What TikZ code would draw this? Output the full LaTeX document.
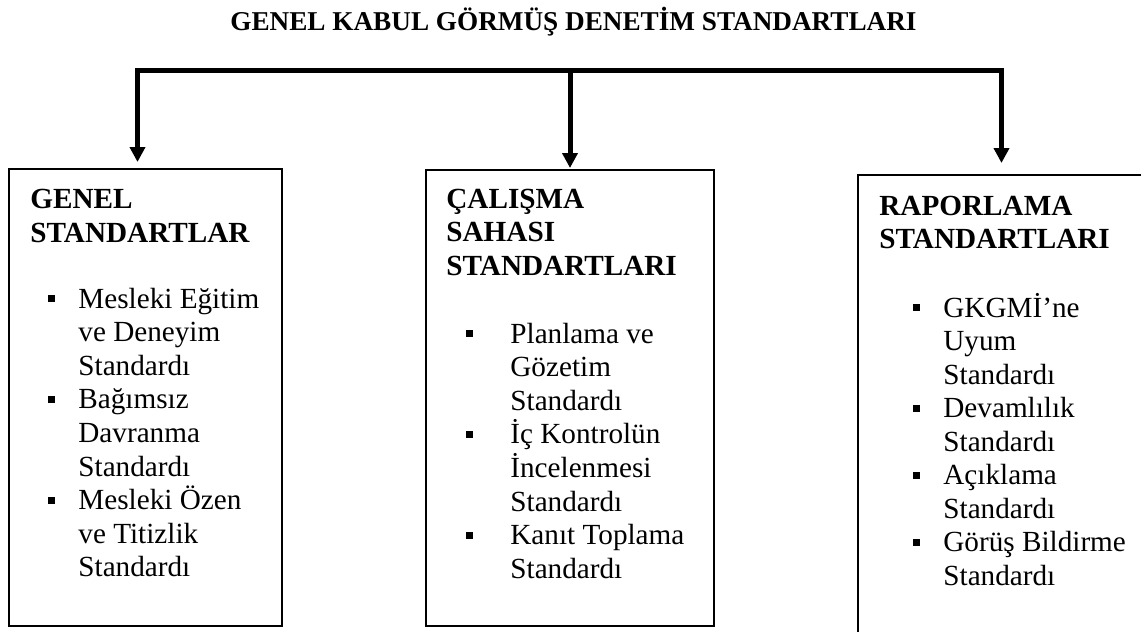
\documentclass[tikz,border=0pt]{standalone}
\usepackage{fontspec}
\setmainfont{Liberation Serif}
\usetikzlibrary{arrows.meta}

\tikzset{
  box/.style={draw, line width=0.7pt, inner sep=0pt, outer sep=0pt},
  head/.style={anchor=base west, inner sep=0pt, font=\fontsize{14.6}{17}\selectfont\bfseries},
  item/.style={anchor=base west, inner sep=0pt, font=\fontsize{14.6}{17}\selectfont},
  conn/.style={line width=2.5pt, -{Triangle[length=7.5pt,width=7.5pt]}},
}

\begin{document}
\begin{tikzpicture}[x=0.5pt, y=-0.5pt]
    \clip (0,0) rectangle (1141,632);

    % Title
    \node[anchor=base, inner sep=0pt, font=\fontsize{13.6}{16}\selectfont\bfseries] (title)
        at (573.5,30) {GENEL KABUL GÖRMÜŞ DENETİM STANDARTLARI};

    % The three boxes (the right one runs off the page)
    \node[box, minimum width=136.5pt, minimum height=228.5pt] (genel)   at (145.5,397.5) {};
    \node[box, minimum width=144pt,   minimum height=228pt]   (calisma) at (570,398) {};
    \node[box, minimum width=153.5pt, minimum height=245pt]   (rapor)   at (1011.5,420) {};

    % Bar and arrows
    \coordinate (barL) at (137.5,70);
    \coordinate (barM) at (570,70);
    \coordinate (barR) at (1001.5,70);
    \draw[conn, {Triangle[length=7.5pt,width=7.5pt]}-{Triangle[length=7.5pt,width=7.5pt]},
          shorten <=3.5pt, shorten >=6pt]
        (barL |- genel.north) -- (barL) -- (barR) -- (barR |- rapor.north);
    \draw[conn, shorten >=1pt] (barM) -- (barM |- calisma.north);

    % Left box
    \node[head] (genel-h1) at (30,208) {GENEL};
    \node[head] (genel-h2) at (30,242) {STANDARTLAR};
    \foreach \y in {308,409,510}
        \fill (48,\y-13) rectangle ++(7,7);
    \foreach \txt [count=\i from 0] in {Mesleki Eğitim, ve Deneyim, Standardı,
            Bağımsız, Davranma, Standardı, Mesleki Özen, ve Titizlik, Standardı}
        \node[item] (genel-\i) at (78,308+33.6*\i) {\txt};

    % Middle box
    \foreach \txt [count=\i from 0] in {ÇALIŞMA, SAHASI, STANDARTLARI}
        \node[head] (calisma-h\i) at (446,208+33.6*\i) {\txt};
    \foreach \y in {343,444,545}
        \fill (465.5,\y-13) rectangle ++(7,7);
    \foreach \txt [count=\i from 0] in {Planlama ve, Gözetim, Standardı,
            İç Kontrolün, İncelenmesi, Standardı, Kanıt Toplama, Standardı}
        \node[item] (calisma-\i) at (510,343+33.6*\i) {\txt};

    % Right box
    \node[head] (rapor-h1) at (879,215) {RAPORLAMA};
    \node[head] (rapor-h2) at (879,248) {STANDARTLARI};
    \foreach \y in {317,418,485,552}
        \fill (913,\y-13) rectangle ++(7,7);
    \foreach \txt [count=\i from 0] in {GKGMİ’ne, Uyum, Standardı, Devamlılık,
            Standardı, Açıklama, Standardı, Görüş Bildirme, Standardı}
        \node[item] (rapor-\i) at (943,317+33.5*\i) {\txt};

\end{tikzpicture}
\end{document}
